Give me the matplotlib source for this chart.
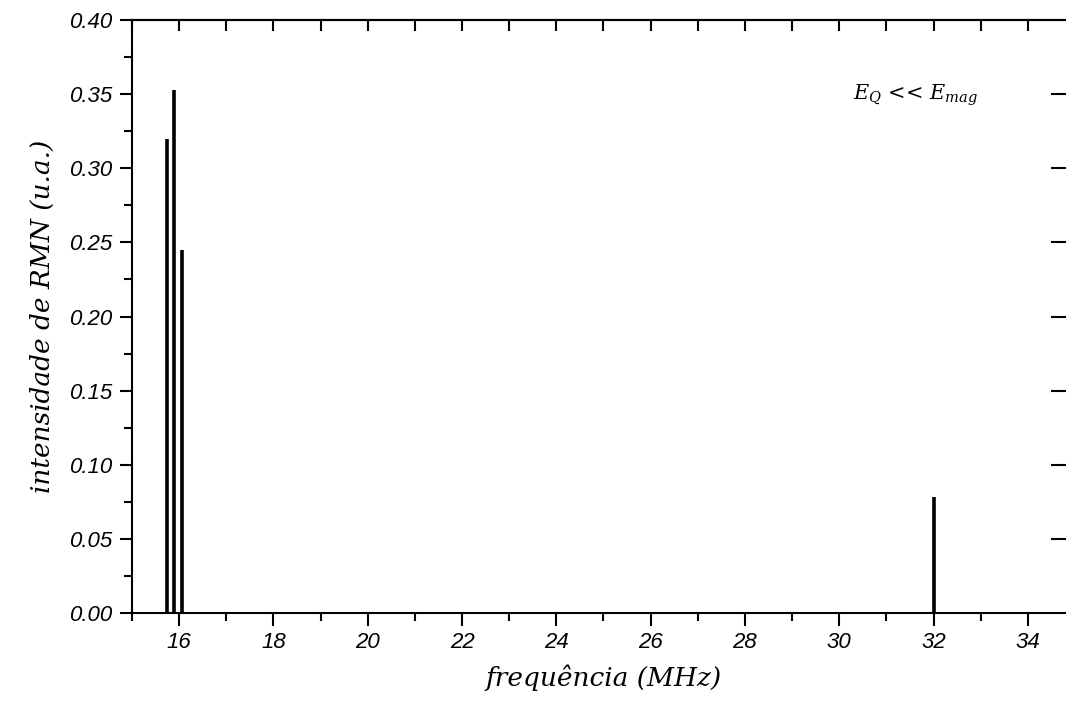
"""
Espectro de RMN calculado para o limite E_Q << E_mag.
"""

import matplotlib
matplotlib.use("Agg")
import matplotlib.pyplot as plt
from matplotlib.ticker import MultipleLocator

# Linhas de ressonancia (MHz) e intensidades (u.a.)
frequencias = [15.74, 15.90, 16.06, 32.0]
intensidades = [0.320, 0.353, 0.245, 0.078]

x_ticks = [16, 18, 20, 22, 24, 26, 28, 30, 32, 34]
y_ticks = [0.00, 0.05, 0.10, 0.15, 0.20, 0.25, 0.30, 0.35, 0.40]

plt.rcParams["mathtext.fontset"] = "dejavuserif"

fig = plt.figure(figsize=(10.66, 7.11), dpi=100)
ax = fig.add_axes([0.1238, 0.1378, 0.8846, 0.834])

ax.vlines(frequencias, 0, intensidades, color="black", linewidth=2.6)

ax.set_xlim(15, 35)
ax.set_ylim(0, 0.40)
ax.set_xticks(x_ticks)
ax.set_yticks(y_ticks)
ax.xaxis.set_minor_locator(MultipleLocator(1))
ax.yaxis.set_minor_locator(MultipleLocator(0.025))

tick_font = dict(family="Liberation Sans", style="italic", size=16)
ax.set_xticklabels([f"{v}" for v in x_ticks], fontdict=tick_font)
ax.set_yticklabels([f"{v:.2f}" for v in y_ticks], fontdict=tick_font)

# eixos inferior/esquerdo com marcas para fora, superior/direito para dentro
ax.tick_params(which="both", bottom=True, left=True, top=False, right=False,
               direction="out", width=1.5, color="black")
ax.tick_params(which="major", length=9, pad=5)
ax.tick_params(which="minor", length=6)

sec_top = ax.secondary_xaxis("top")
sec_top.set_xticks(range(15, 36))
sec_top.tick_params(direction="in", length=8, width=1.5, labeltop=False)
sec_top.spines["top"].set_linewidth(1.5)

sec_right = ax.secondary_yaxis("right")
sec_right.set_yticks(y_ticks[1:-1])
sec_right.tick_params(direction="in", length=17, width=1.5, labelright=False)

for side in ["left", "bottom", "top", "right"]:
    ax.spines[side].set_linewidth(1.5)

label_font = dict(family="DejaVu Serif", style="italic", size=19)
ax.set_xlabel("frequência (MHz)", fontdict=label_font, labelpad=8)
ax.set_ylabel("intensidade de RMN (u.a.)", fontdict=label_font, labelpad=10)

ax.text(30.3, 0.349, r"$E_Q$ << $E_{mag}$", family="DejaVu Serif",
        style="italic", size=15, va="center", ha="left")

fig.savefig("out.png", dpi=100)
